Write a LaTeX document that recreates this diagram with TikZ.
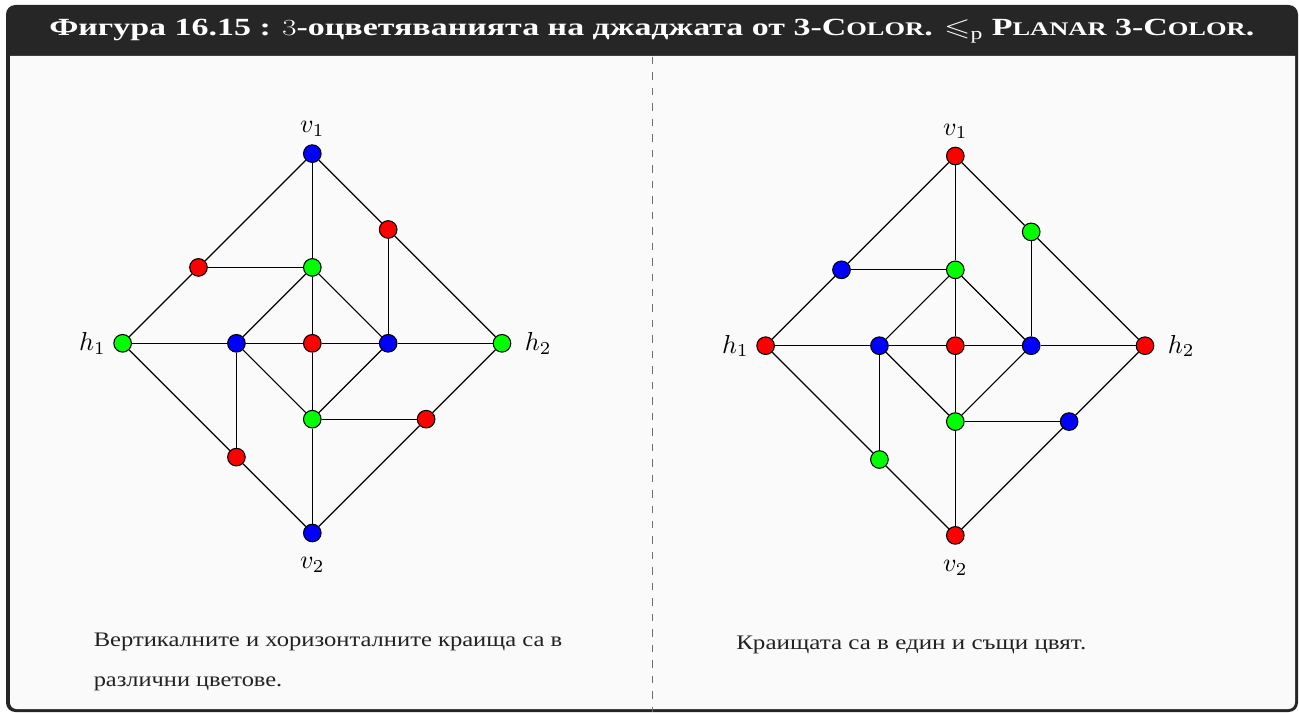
\documentclass[tikz,border=0pt]{standalone}
\usepackage{fontspec}
\setmainfont{Liberation Serif}
\usepackage{amssymb}
\usepackage{graphicx}
\newcommand\mysc[2]{#1\scalebox{0.78}{#2}}
\newcommand\biglbl[1]{\scalebox{1.95}{$#1$}}
\definecolor{titlebg}{HTML}{262626}
\definecolor{bodybg}{HTML}{FAFAFA}
\definecolor{dashcol}{HTML}{707070}
\definecolor{txtcol}{HTML}{222222}
\tikzset{
 glv1/.style={fill=blue}, gla/.style={fill=red}, glb/.style={fill=green}, glc/.style={fill=red},
 glh1/.style={fill=green}, glm1/.style={fill=blue}, glm0/.style={fill=red}, glm2/.style={fill=blue},
 glh2/.style={fill=green}, glg/.style={fill=green}, gld/.style={fill=red}, gle/.style={fill=red},
 glv2/.style={fill=blue},
 grv1/.style={fill=red}, gra/.style={fill=blue}, grb/.style={fill=green}, grc/.style={fill=green},
 grh1/.style={fill=red}, grm1/.style={fill=blue}, grm0/.style={fill=red}, grm2/.style={fill=blue},
 grh2/.style={fill=red}, grg/.style={fill=green}, grd/.style={fill=blue}, gre/.style={fill=green},
 grv2/.style={fill=red}
}
\newcommand\drawgraph[1]{%
 \node[vtx,#1v1] (#1v1) at (0,5) {};
 \node[vtx,#1a] (#1a) at (-3,2) {};
 \node[vtx,#1b] (#1b) at (0,2) {};
 \node[vtx,#1c] (#1c) at (2,3) {};
 \node[vtx,#1h1] (#1h1) at (-5,0) {};
 \node[vtx,#1m1] (#1m1) at (-2,0) {};
 \node[vtx,#1m0] (#1m0) at (0,0) {};
 \node[vtx,#1m2] (#1m2) at (2,0) {};
 \node[vtx,#1h2] (#1h2) at (5,0) {};
 \node[vtx,#1g] (#1g) at (0,-2) {};
 \node[vtx,#1d] (#1d) at (3,-2) {};
 \node[vtx,#1e] (#1e) at (-2,-3) {};
 \node[vtx,#1v2] (#1v2) at (0,-5) {};
 \foreach \p/\q in {v1/a,a/h1,a/b,v1/b,v1/c,c/h2,c/m2,b/m1,b/m2,b/m0,h1/m1,m1/m0,m0/m2,m2/h2,m1/e,h1/e,e/v2,m1/g,m2/g,m0/g,g/d,h2/d,d/v2,g/v2}
   \draw[edge] (#1\p) -- (#1\q);
 \node[lbl,anchor=base] (#1lv1) at ([yshift=15.75pt]#1v1.center) {\biglbl{v_1}};
 \node[lbl,anchor=base] (#1lv2) at ([yshift=-27pt]#1v2.center) {\biglbl{v_2}};
 \node[lbl,anchor=base east] (#1lh1) at ([xshift=-12.5pt,yshift=-5.5pt]#1h1.center) {\biglbl{h_1}};
 \node[lbl,anchor=base west] (#1lh2) at ([xshift=17pt,yshift=-5.5pt]#1h2.center) {\biglbl{h_2}};
}
\begin{document}
\begin{tikzpicture}[x=0.75pt,y=-0.75pt,
 vtx/.style={circle,draw=black,line width=0.8pt,minimum size=13.2pt,inner sep=0pt},
 edge/.style={line width=0.9pt,black},
 lbl/.style={inner sep=0pt},
 txt/.style={inner sep=0pt,anchor=base west,text=txtcol}]
\useasboundingbox (0,0) rectangle (1299,713);
\fill[titlebg,rounded corners=7pt] (6,5) rectangle (1298,712);
\fill[bodybg] (10,56) -- (1295,56) {[rounded corners=5pt] -- (1295,709) -- (10,709)} -- cycle;
\draw[dashcol,line width=0.8pt,dash pattern=on 5.6pt off 6pt] (652.7,57) -- (652.7,712);
\node[anchor=base west,inner sep=0pt,text=white] (title) at (49,36)
 {\resizebox{903.75pt}{\height}{\fontsize{18.5}{20}\selectfont\bfseries Фигура 16.15 : $3$-оцветяванията на джаджата от 3-\mysc{C}{OLOR}. $\leqslant_{\mathrm{p}}$ \mysc{P}{LANAR} 3-\mysc{C}{OLOR}.}};
\begin{scope}[shift={(312.3,343.3)},x=1cm,y=1cm]
 \drawgraph{gl}
\end{scope}
\begin{scope}[shift={(955.3,345.7)},x=1cm,y=1cm]
 \drawgraph{gr}
\end{scope}
\node[txt] (t1) at (93.5,646.7) {\resizebox{351.4pt}{\height}{\fontsize{15.5}{18}\selectfont Вертикалните и хоризонталните краища са в}};
\node[txt] (t2) at (93.5,686) {\resizebox{141.4pt}{\height}{\fontsize{15.5}{18}\selectfont различни цветове.}};
\node[txt] (t3) at (736,649) {\resizebox{262.5pt}{\height}{\fontsize{15.5}{18}\selectfont Краищата са в един и същи цвят.}};
\end{tikzpicture}
\end{document}
